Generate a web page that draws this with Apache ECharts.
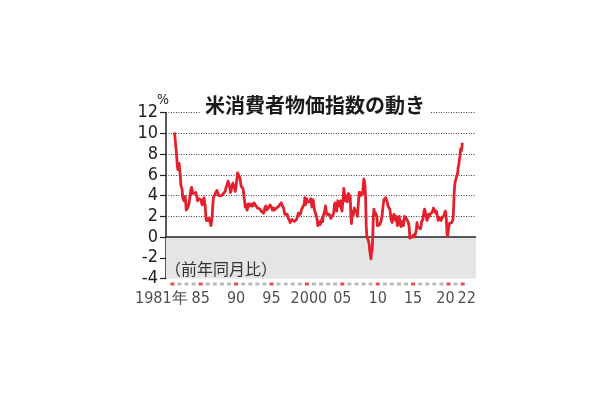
<!DOCTYPE html>
<html><head><meta charset="utf-8">
<script src="https://cdn.jsdelivr.net/npm/echarts@6/dist/echarts.min.js"></script>
<style>html,body{margin:0;padding:0;background:#fff}#c{width:610px;height:400px}</style>
</head><body><div id="c"></div>
<script>
// Monthly US CPI, % change from a year earlier, starting October 1981
const startYear = 1981, startMonth = 10;
const cpi = [
 10.1, 9.6, 8.9,
 8.4, 7.6, 6.8, 6.5, 6.7, 7.1, 6.4, 5.9, 5.0, 5.1, 4.6, 3.8,
 3.7, 3.5, 3.6, 3.9, 3.5, 2.6, 2.5, 2.6, 2.9, 2.9, 3.3, 3.8,
 4.2, 4.6, 4.8, 4.6, 4.2, 4.2, 4.2, 4.3, 4.3, 4.3, 4.1, 3.9,
 3.5, 3.5, 3.7, 3.7, 3.8, 3.8, 3.6, 3.3, 3.1, 3.2, 3.5, 3.8,
 3.9, 3.1, 2.2, 1.6, 1.5, 1.8, 1.6, 1.6, 1.8, 1.5, 1.3, 1.1,
 1.5, 2.1, 3.0, 3.8, 3.9, 3.7, 3.9, 4.3, 4.4, 4.5, 4.5, 4.4,
 4.0, 3.9, 3.9, 3.9, 3.9, 4.0, 4.1, 4.0, 4.2, 4.2, 4.2, 4.4,
 4.7, 4.8, 5.0, 5.1, 5.4, 5.2, 5.0, 4.7, 4.3, 4.5, 4.7, 4.6,
 5.2, 5.3, 5.2, 4.7, 4.4, 4.7, 4.8, 5.6, 6.2, 6.3, 6.3, 6.1,
 5.7, 5.3, 4.9, 4.9, 5.0, 4.7, 4.4, 3.8, 3.4, 2.9, 3.0, 3.1,
 2.6, 2.8, 3.2, 3.2, 3.0, 3.1, 3.2, 3.1, 3.0, 3.2, 3.0, 2.9,
 3.3, 3.2, 3.1, 3.2, 3.2, 3.0, 2.8, 2.8, 2.7, 2.8, 2.7, 2.7,
 2.5, 2.5, 2.5, 2.4, 2.3, 2.5, 2.8, 2.9, 3.0, 2.6, 2.7, 2.7,
 2.8, 2.9, 2.9, 3.1, 3.2, 3.0, 2.8, 2.6, 2.5, 2.8, 2.6, 2.5,
 2.7, 2.7, 2.8, 2.9, 2.9, 2.8, 3.0, 2.9, 3.0, 3.0, 3.3, 3.3,
 3.0, 3.0, 2.8, 2.5, 2.2, 2.3, 2.2, 2.2, 2.2, 2.1, 1.8, 1.7,
 1.6, 1.4, 1.4, 1.4, 1.7, 1.7, 1.7, 1.6, 1.5, 1.5, 1.5, 1.6,
 1.7, 1.6, 1.7, 2.3, 2.1, 2.0, 2.1, 2.3, 2.6, 2.6, 2.6, 2.7,
 2.7, 3.2, 3.8, 3.1, 3.2, 3.7, 3.7, 3.4, 3.5, 3.4, 3.4, 3.4,
 3.7, 3.5, 2.9, 3.3, 3.6, 3.2, 2.7, 2.7, 2.6, 2.1, 1.9, 1.6,
 1.1, 1.1, 1.5, 1.6, 1.2, 1.1, 1.5, 1.8, 1.5, 2.0, 2.2, 2.4,
 2.6, 3.0, 3.0, 2.2, 2.1, 2.1, 2.1, 2.2, 2.3, 2.0, 1.8, 1.9,
 1.9, 1.7, 1.7, 2.3, 3.1, 3.3, 3.0, 2.7, 2.5, 3.2, 3.5, 3.3,
 3.0, 3.0, 3.1, 3.5, 2.8, 2.5, 3.2, 3.6, 4.7, 4.3, 3.5, 3.4,
 4.0, 3.6, 3.4, 3.5, 4.2, 4.3, 4.1, 3.8, 2.1, 1.3, 2.0, 2.5,
 2.1, 2.4, 2.8, 2.6, 2.7, 2.7, 2.4, 2.0, 2.8, 3.5, 4.3, 4.1,
 4.3, 4.0, 4.0, 3.9, 4.2, 5.0, 5.6, 5.4, 4.9, 3.7, 1.1, 0.1,
 0.0, 0.2, -0.4, -0.7, -1.3, -1.4, -2.1, -1.5, -1.3, -0.2, 1.8, 2.7,
 2.6, 2.1, 2.3, 2.2, 2.0, 1.1, 1.2, 1.1, 1.1, 1.2, 1.1, 1.5,
 1.6, 2.1, 2.7, 3.2, 3.6, 3.6, 3.6, 3.8, 3.9, 3.5, 3.4, 3.0,
 2.9, 2.9, 2.7, 2.3, 1.7, 1.7, 1.4, 1.7, 2.0, 2.2, 1.8, 1.7,
 1.6, 2.0, 1.5, 1.1, 1.4, 1.8, 2.0, 1.5, 1.2, 1.0, 1.2, 1.5,
 1.6, 1.1, 1.5, 2.0, 2.1, 2.1, 2.0, 1.7, 1.7, 1.7, 1.3, 0.8,
 -0.1, 0.0, -0.1, -0.2, 0.0, 0.1, 0.2, 0.2, 0.0, 0.2, 0.5, 0.7,
 1.4, 1.0, 0.9, 1.1, 1.0, 1.0, 0.8, 1.1, 1.5, 1.6, 1.7, 2.1,
 2.5, 2.7, 2.4, 2.2, 1.9, 1.6, 1.7, 1.9, 2.2, 2.0, 2.2, 2.1,
 2.1, 2.2, 2.4, 2.5, 2.8, 2.9, 2.9, 2.7, 2.3, 2.5, 2.2, 1.9,
 1.6, 1.5, 1.9, 2.0, 1.8, 1.6, 1.8, 1.7, 1.7, 1.8, 2.1, 2.3,
 2.5, 2.3, 1.5, 0.3, 0.1, 0.6, 1.0, 1.3, 1.4, 1.2, 1.2, 1.4,
 1.4, 1.7, 2.6, 4.2, 5.0, 5.4, 5.4, 5.3, 5.4, 6.2, 6.8, 7.0,
 7.5, 7.9, 8.5, 8.3, 8.6, 9.1
];
const firstYear = 1981, lastYear = 2022;
const labelYears = [1981, 1985, 1990, 1995, 2000, 2005, 2010, 2015, 2020, 2022];
const labelTexts = ['1981年', '85', '90', '95', '2000', '05', '10', '15', '20', '22'];
const yTicks = [-4, -2, 0, 2, 4, 6, 8, 10, 12];
const titleText = '米消費者物価指数の動き';
const noteText = '（前年同月比）';
const unitText = '%';

const RED = '#e3202b';
const NARROW = "'Liberation Sans Narrow','DejaVu Sans Condensed','Liberation Sans',sans-serif";
const XMIN = 1980.6, XMAX = 2024.38;
const labelShift = { 1981: -11, 2000: 2, 2020: -3, 2022: 4 };

const lineData = cpi.map((v, i) => [startYear + (startMonth - 1 + i + 0.5) / 12, v]);
const yearData = [];
for (let y = firstYear; y <= lastYear; y++) {
  const k = labelYears.indexOf(y);
  yearData.push({
    value: [y + 0.5, 0.5],
    itemStyle: { color: k >= 0 ? RED : '#a9abae' },
    label: k >= 0 ? { show: true, formatter: labelTexts[k], offset: [labelShift[y] || 0, 0] } : { show: false }
  });
}

const chart = echarts.init(document.getElementById('c'), null, { renderer: 'canvas' });
chart.setOption({
  backgroundColor: '#fff',
  animation: false,
  grid: [
    { left: 166, top: 112.7, width: 310, height: 165.8 },
    { left: 166, top: 282, width: 310, height: 4 }
  ],
  xAxis: [
    { type: 'value', gridIndex: 0, min: XMIN, max: XMAX, show: false },
    { type: 'value', gridIndex: 1, min: XMIN, max: XMAX, show: false }
  ],
  yAxis: [
    {
      type: 'value', gridIndex: 0, min: yTicks[0], max: yTicks[yTicks.length - 1], interval: 2,
      axisLine: { show: true, lineStyle: { color: '#222', width: 1.5 } },
      axisTick: { show: true, length: 6, lineStyle: { color: '#222', width: 1.2 } },
      axisLabel: { color: '#222', fontSize: 18, fontFamily: NARROW, margin: 8 },
      splitLine: { show: true, lineStyle: { type: [1, 1.5], width: 1, color: ['rgba(0,0,0,0)', '#444', '#444', '#444', '#444', '#444', '#444', '#444', '#444'] } }
    },
    { type: 'value', gridIndex: 1, min: 0, max: 1, show: false }
  ],
  graphic: [
    { type: 'text', left: 157, top: 93, style: { text: unitText, fontSize: 14, fill: '#222', fontFamily: NARROW } },
    { type: 'text', left: 200, top: 95, z: 10,
      style: { text: titleText, fontSize: 20, fontWeight: 'bold', fill: '#1a1a1a', fontFamily: "'Noto Sans CJK JP',sans-serif",
               backgroundColor: '#fff', padding: [0, 6, 0, 5] } },
    { type: 'text', left: 165, top: 261, z: 10, style: { text: noteText, fontSize: 16, fill: '#333', fontFamily: "'Noto Sans CJK JP',sans-serif" } }
  ],
  series: [
    {
      type: 'line', xAxisIndex: 0, yAxisIndex: 0, data: lineData, showSymbol: false, z: 5,
      lineStyle: { color: RED, width: 2.8, join: 'round' },
      markArea: { silent: true, itemStyle: { color: '#e3e5e7' }, data: [[{ yAxis: -4 }, { yAxis: 0 }]] },
      markLine: { silent: true, symbol: 'none', label: { show: false }, lineStyle: { color: '#222', type: 'solid', width: 1.5 }, data: [{ yAxis: 0 }] }
    },
    {
      type: 'scatter', xAxisIndex: 1, yAxisIndex: 1, data: yearData, symbol: 'rect', symbolSize: [4, 3],
      label: { position: 'bottom', distance: 5, color: '#222', fontSize: 16, fontFamily: NARROW }
    }
  ]
});
</script></body></html>
